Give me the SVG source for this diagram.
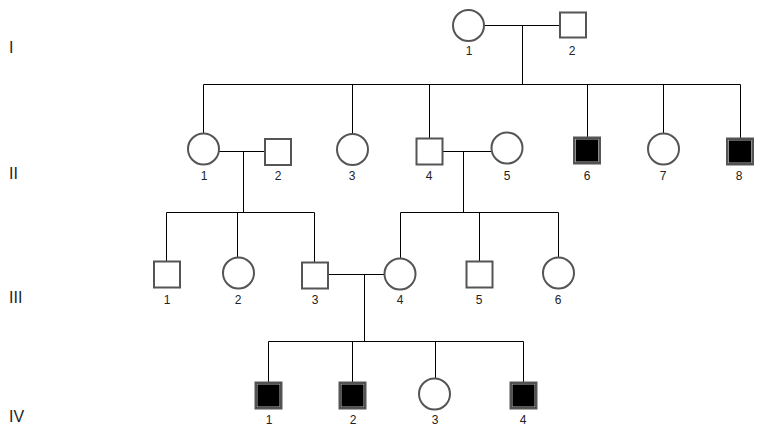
<svg xmlns="http://www.w3.org/2000/svg" width="775" height="443" viewBox="0 0 775 443">
<style>
.m{fill:#fff;stroke:#555;stroke-width:2}
.a{fill:#000;stroke:#555;stroke-width:2}
.ai{fill:none;stroke:#c8c8c8;stroke-width:0.7}
.f{fill:#fff;stroke:#555;stroke-width:2}
.c line{stroke:#000;stroke-width:1}
.n{font-family:"Liberation Sans",Arial,sans-serif;font-size:12px;fill:#222;text-anchor:middle}
.g{font-family:"Liberation Sans",Arial,sans-serif;font-size:16px;fill:#222}
</style>
<rect width="775" height="443" fill="#fff"/>
<g id="generations">
<text class="g" x="9" y="53">I</text>
<text class="g" x="9" y="179">II</text>
<text class="g" x="9" y="303">III</text>
<text class="g" x="9" y="422">IV</text>
</g>
<g id="connectors" class="c">
<line x1="484" y1="25.5" x2="560" y2="25.5"/>
<line x1="522.5" y1="25.5" x2="522.5" y2="84.5"/>
<line x1="203.5" y1="84.5" x2="740.5" y2="84.5"/>
<line x1="203.5" y1="84.5" x2="203.5" y2="133.5"/>
<line x1="352.5" y1="84.5" x2="352.5" y2="134"/>
<line x1="429.5" y1="84.5" x2="429.5" y2="138.5"/>
<line x1="587.5" y1="84.5" x2="587.5" y2="137.5"/>
<line x1="663.5" y1="84.5" x2="663.5" y2="133.5"/>
<line x1="740.5" y1="84.5" x2="740.5" y2="138.5"/>
<line x1="219" y1="151.5" x2="265" y2="151.5"/>
<line x1="243.5" y1="151.5" x2="243.5" y2="212.5"/>
<line x1="166.5" y1="212.5" x2="314.5" y2="212.5"/>
<line x1="166.5" y1="212.5" x2="166.5" y2="261.5"/>
<line x1="237.5" y1="212.5" x2="237.5" y2="257.5"/>
<line x1="314.5" y1="212.5" x2="314.5" y2="262.5"/>
<line x1="442.5" y1="151.5" x2="491.5" y2="151.5"/>
<line x1="463.5" y1="151.5" x2="463.5" y2="212.5"/>
<line x1="400.5" y1="212.5" x2="558.5" y2="212.5"/>
<line x1="400.5" y1="212.5" x2="400.5" y2="258.5"/>
<line x1="479.5" y1="212.5" x2="479.5" y2="261.5"/>
<line x1="558.5" y1="212.5" x2="558.5" y2="257.5"/>
<line x1="328" y1="274.5" x2="384.5" y2="274.5"/>
<line x1="364.5" y1="274.5" x2="364.5" y2="341.5"/>
<line x1="268.5" y1="341.5" x2="523.5" y2="341.5"/>
<line x1="268.5" y1="341.5" x2="268.5" y2="382.5"/>
<line x1="352.5" y1="341.5" x2="352.5" y2="382.5"/>
<line x1="435.5" y1="341.5" x2="435.5" y2="378.5"/>
<line x1="523.5" y1="341.5" x2="523.5" y2="382.5"/>
</g>
<g id="I-1"><circle class="f" cx="468.5" cy="25.5" r="15.5"/><text class="n" x="469" y="55">1</text></g>
<g id="I-2"><rect class="m" x="560" y="12.5" width="26" height="25"/><text class="n" x="572" y="55">2</text></g>
<g id="II-1"><circle class="f" cx="203.5" cy="149" r="15.5"/><text class="n" x="204" y="180">1</text></g>
<g id="II-2"><rect class="m" x="265" y="139" width="26" height="26"/><text class="n" x="278" y="180">2</text></g>
<g id="II-3"><circle class="f" cx="352.5" cy="149.5" r="15.5"/><text class="n" x="352" y="180">3</text></g>
<g id="II-4"><rect class="m" x="416.5" y="138.5" width="26" height="26"/><text class="n" x="429" y="180">4</text></g>
<g id="II-5"><circle class="f" cx="507" cy="148" r="15.5"/><text class="n" x="507" y="180">5</text></g>
<g id="II-6"><rect class="a" x="574" y="137.5" width="26" height="26"/><rect class="ai" x="575.6" y="139.1" width="22.8" height="22.8"/><text class="n" x="587" y="180">6</text></g>
<g id="II-7"><circle class="f" cx="663.5" cy="149" r="15.5"/><text class="n" x="663" y="180">7</text></g>
<g id="II-8"><rect class="a" x="727" y="138.5" width="26" height="26"/><rect class="ai" x="728.6" y="140.1" width="22.8" height="22.8"/><text class="n" x="739" y="180">8</text></g>
<g id="III-1"><rect class="m" x="154" y="261.5" width="26" height="26"/><text class="n" x="167" y="304">1</text></g>
<g id="III-2"><circle class="f" cx="238.5" cy="273" r="15.5"/><text class="n" x="238" y="304">2</text></g>
<g id="III-3"><rect class="m" x="302" y="262.5" width="26" height="26"/><text class="n" x="315" y="304">3</text></g>
<g id="III-4"><circle class="f" cx="400" cy="274" r="15.5"/><text class="n" x="400" y="304">4</text></g>
<g id="III-5"><rect class="m" x="466.5" y="261.5" width="26" height="26"/><text class="n" x="479" y="304">5</text></g>
<g id="III-6"><circle class="f" cx="558.5" cy="273" r="15.5"/><text class="n" x="558" y="304">6</text></g>
<g id="IV-1"><rect class="a" x="255.5" y="382.5" width="26" height="26"/><rect class="ai" x="257.1" y="384.1" width="22.8" height="22.8"/><text class="n" x="269" y="424">1</text></g>
<g id="IV-2"><rect class="a" x="339.5" y="382.5" width="26" height="26"/><rect class="ai" x="341.1" y="384.1" width="22.8" height="22.8"/><text class="n" x="353" y="424">2</text></g>
<g id="IV-3"><circle class="f" cx="434.5" cy="394" r="15.5"/><text class="n" x="435" y="424">3</text></g>
<g id="IV-4"><rect class="a" x="510.5" y="382.5" width="26" height="26"/><rect class="ai" x="512.1" y="384.1" width="22.8" height="22.8"/><text class="n" x="523" y="424">4</text></g>
</svg>
